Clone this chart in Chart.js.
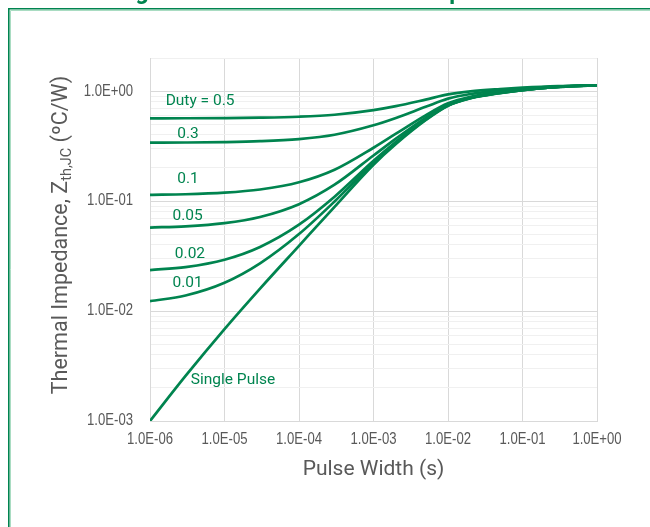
<!DOCTYPE html>
<html>
<head>
<meta charset="utf-8">
<script src="https://cdn.jsdelivr.net/npm/chart.js@4.4.1/dist/chart.umd.min.js"></script>
<style>
  html, body { margin: 0; padding: 0; background: #fff; overflow: hidden; }
</style>
</head>
<body>
<canvas id="zthChart" width="650" height="527"></canvas>
<script>
// Transient thermal impedance Zth,JC vs pulse width
const pulseWidth  = [1e-6, 3e-6, 1e-5, 3e-5, 1e-4, 3e-4, 1e-3, 2e-3, 5e-3, 1e-2, 2e-2, 5e-2, 1e-1, 3e-1, 1];
const duty05      = [0.5655, 0.5663, 0.5684, 0.5730, 0.5846, 0.6094, 0.672, 0.730, 0.837, 0.9325, 0.995, 1.045, 1.075, 1.110, 1.13];
const duty03      = [0.3397, 0.3408, 0.3438, 0.3502, 0.3664, 0.4011, 0.4888, 0.570, 0.719, 0.8535, 0.941, 1.011, 1.053, 1.102, 1.13];
const duty01      = [0.1139, 0.1153, 0.1192, 0.1274, 0.1483, 0.1928, 0.3056, 0.410, 0.602, 0.7745, 0.887, 0.977, 1.031, 1.094, 1.13];
const duty005     = [0.05745, 0.05894, 0.06301, 0.0717, 0.09374, 0.1408, 0.2598, 0.370, 0.572, 0.7548, 0.8735, 0.9685, 1.0255, 1.092, 1.13];
const duty002     = [0.02358, 0.02512, 0.02931, 0.03828, 0.06102, 0.1095, 0.2323, 0.346, 0.555, 0.7429, 0.865, 0.963, 1.022, 1.091, 1.13];
const duty001     = [0.01229, 0.01384, 0.01808, 0.02714, 0.05011, 0.09911, 0.2232, 0.338, 0.549, 0.7390, 0.863, 0.962, 1.021, 1.090, 1.13];
const singlePulse = [0.001, 0.00257, 0.00685, 0.0160, 0.0392, 0.0887, 0.214, 0.33, 0.543, 0.735, 0.86, 0.96, 1.02, 1.09, 1.13];

const seriesLabels = ['Duty = 0.5', '0.3', '0.1', '0.05', '0.02', '0.01', 'Single Pulse'];
const seriesValues = [duty05, duty03, duty01, duty005, duty002, duty001, singlePulse];

const xTickValues = [1e-6, 1e-5, 1e-4, 1e-3, 1e-2, 1e-1, 1];
const yDecades = [1e-3, 1e-2, 1e-1, 1];
const yMax = 2;

const GREEN = '#00844f';
const GREY_TEXT = '#595959';
const TICK_FONT = '16px "Liberation Sans", Arial, sans-serif';
const TICK_SQUEEZE = 0.82;   // narrow-face look of the original tick labels
const BODY_FONT = 'Roboto, "Noto Sans", sans-serif';

function isDecade(v) {
  const l = Math.log10(v);
  return Math.abs(l - Math.round(l)) < 1e-9;
}

function sci(v) {
  const e = Math.round(Math.log10(v));
  const m = v / Math.pow(10, e);
  return m.toFixed(1) + 'E' + (e < 0 ? '-' : '+') + String(Math.abs(e)).padStart(2, '0');
}

// minor grid ticks: 1..9 of every decade, up to the axis max
const yTickValues = [];
yDecades.forEach(d => {
  for (let k = 1; k <= 9; k++) {
    const v = +(k * d).toPrecision(6);
    if (v <= yMax) yTickValues.push(v);
  }
});
if (!yTickValues.includes(yMax)) yTickValues.push(yMax);

// label anchors in data units (x = pulse width, y = Zth)
const labelSpots = [
  [4.7e-6, 0.81],
  [3.24e-6, 0.406],
  [3.24e-6, 0.158],
  [3.19e-6, 0.0731],
  [3.44e-6, 0.033],
  [3.19e-6, 0.0178],
  [1.3e-5, 0.00236]
];

function squeezedText(ctx, txt, x, y, align) {
  ctx.save();
  ctx.translate(x, y);
  ctx.scale(TICK_SQUEEZE, 1);
  ctx.textAlign = align;
  ctx.fillText(txt, 0, 0);
  ctx.restore();
}

const decorPlugin = {
  id: 'decor',
  afterDraw(chart) {
    const ctx = chart.ctx;
    const xs = chart.scales.x;
    const ys = chart.scales.y;
    const area = chart.chartArea;

    // green frame round the figure
    ctx.save();
    ctx.strokeStyle = '#a9dcc2';
    ctx.lineWidth = 1;
    ctx.beginPath();
    ctx.moveTo(10.5, 700); ctx.lineTo(10.5, 10.5); ctx.lineTo(700, 10.5);
    ctx.stroke();
    ctx.strokeStyle = GREEN;
    ctx.lineWidth = 1.6;
    ctx.beginPath();
    ctx.moveTo(8.8, 700); ctx.lineTo(8.8, 8.8); ctx.lineTo(700, 8.8);
    ctx.stroke();

    // figure caption, cut off above the frame (only descenders show)
    const caption = 'Figure 11. Transient Thermal Impedance';
    ctx.fillStyle = GREEN;
    ctx.textBaseline = 'alphabetic';
    ctx.textAlign = 'left';
    ctx.font = 'bold 20px ' + BODY_FONT;
    const gi = caption.indexOf('g');
    const pi = caption.indexOf('p');
    const gMid = ctx.measureText(caption.slice(0, gi)).width + ctx.measureText('g').width / 2;
    const pMid = ctx.measureText(caption.slice(0, pi)).width + ctx.measureText('p').width / 2;
    const size = 20 * 314 / (pMid - gMid);
    ctx.font = 'bold ' + size.toFixed(2) + 'px ' + BODY_FONT;
    const gMid2 = ctx.measureText(caption.slice(0, gi)).width + ctx.measureText('g').width / 2;
    ctx.fillText(caption, 142 - gMid2, -1.5);
    ctx.restore();

    // tick labels
    ctx.save();
    ctx.fillStyle = GREY_TEXT;
    ctx.font = TICK_FONT;
    ctx.textBaseline = 'middle';
    xs.ticks.forEach(t => {
      squeezedText(ctx, sci(t.value), xs.getPixelForValue(t.value), 440, 'center');
    });
    ys.ticks.forEach(t => {
      if (isDecade(t.value)) squeezedText(ctx, sci(t.value), 133, ys.getPixelForValue(t.value), 'right');
    });
    ctx.restore();

    // series labels
    ctx.save();
    ctx.fillStyle = GREEN;
    ctx.font = '15.5px ' + BODY_FONT;
    ctx.textAlign = 'center';
    ctx.textBaseline = 'middle';
    seriesLabels.forEach((txt, i) => {
      const [vx, vy] = labelSpots[i];
      ctx.fillText(txt, xs.getPixelForValue(vx), ys.getPixelForValue(vy));
    });
    ctx.restore();

    // x axis title
    ctx.save();
    ctx.fillStyle = GREY_TEXT;
    ctx.font = '21px ' + BODY_FONT;
    ctx.textAlign = 'center';
    ctx.textBaseline = 'middle';
    ctx.fillText('Pulse Width (s)', (area.left + area.right) / 2, 470);
    ctx.restore();

    // y axis title with subscript
    ctx.save();
    ctx.fillStyle = GREY_TEXT;
    ctx.translate(67, 235);
    ctx.rotate(-Math.PI / 2);
    ctx.textBaseline = 'alphabetic';
    ctx.textAlign = 'left';
    const mainFont = '21.5px ' + BODY_FONT;
    const subFont = '14.5px ' + BODY_FONT;
    const p1 = 'Thermal Impedance, Z', p2 = 'th,JC', p3 = ' (\u00baC/W)';
    ctx.font = mainFont; const w1 = ctx.measureText(p1).width; const w3 = ctx.measureText(p3).width;
    ctx.font = subFont; const w2 = ctx.measureText(p2).width;
    const x0 = -(w1 + w2 + w3) / 2;
    ctx.font = mainFont; ctx.fillText(p1, x0, 0);
    ctx.font = subFont; ctx.fillText(p2, x0 + w1, 4);
    ctx.font = mainFont; ctx.fillText(p3, x0 + w1 + w2, 0);
    ctx.restore();
  }
};

const datasets = seriesLabels.map((name, i) => ({
  label: name,
  data: pulseWidth.map((t, j) => ({ x: t, y: seriesValues[i][j] })),
  borderColor: GREEN,
  backgroundColor: GREEN,
  borderWidth: 2.7,
  pointRadius: 0,
  fill: false,
  cubicInterpolationMode: 'monotone'
}));

new Chart(document.getElementById('zthChart'), {
  type: 'line',
  data: { datasets: datasets },
  options: {
    responsive: false,
    animation: false,
    devicePixelRatio: 1,
    layout: { padding: { top: 58, right: 53, bottom: 0, left: 0 } },
    plugins: {
      legend: { display: false },
      tooltip: { enabled: false }
    },
    scales: {
      x: {
        type: 'logarithmic',
        min: 1e-6,
        max: 1,
        afterBuildTicks(scale) {
          scale.ticks = xTickValues.map(v => ({ value: v, major: true }));
        },
        afterFit(scale) { scale.height = 106; },
        grid: { color: '#d9d9d9', drawTicks: false, lineWidth: 1 },
        border: { color: '#d9d9d9' },
        ticks: { display: false, autoSkip: false }
      },
      y: {
        type: 'logarithmic',
        min: 1e-3,
        max: yMax,
        afterBuildTicks(scale) {
          scale.ticks = yTickValues.map(v => ({ value: v, major: isDecade(v) }));
        },
        afterFit(scale) { scale.width = 150; },
        grid: {
          drawTicks: false,
          lineWidth: 1,
          color: c => (c.tick && isDecade(c.tick.value)) ? '#d9d9d9' : '#f0f0f0'
        },
        border: { color: '#d9d9d9' },
        ticks: { display: false, autoSkip: false }
      }
    }
  },
  plugins: [decorPlugin]
});
</script>
</body>
</html>
